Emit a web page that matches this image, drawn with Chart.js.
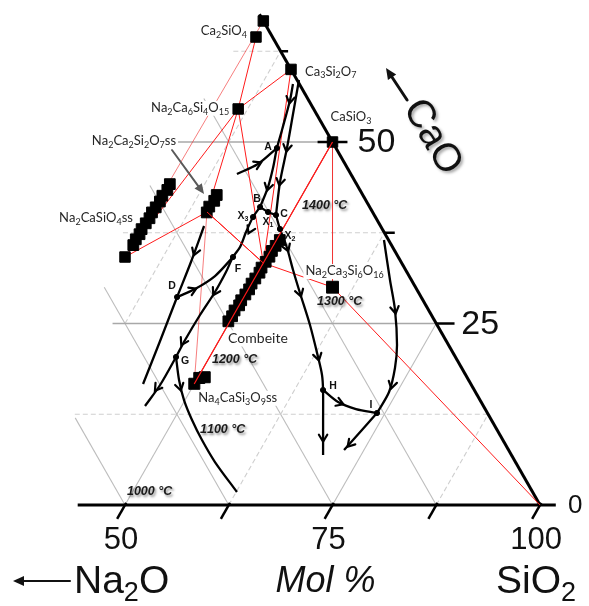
<!DOCTYPE html>
<html><head><meta charset="utf-8">
<script src="https://cdn.jsdelivr.net/npm/chart.js@4"></script>
<style>html,body{margin:0;padding:0;background:#fff}canvas{display:block}</style>
</head><body>
<canvas id="c" width="589" height="606"></canvas>
<script>
// All compositions are [SiO2 mol%, CaO mol%]  (Na2O = 100 - SiO2 - CaO)
const siO2TickLabels = [50, 75, 100];
const caOTickLabels = [50, 25, 0];
const bottomTickSiO2 = [50, 62.5, 75, 87.5, 100];
const edgeTickCaO = [62.5, 50, 37.5, 25];
const edgeTickOuterSiO2 = [38.4, 51.8, 63.75, 77.2];
const hGridCaO = [12.5, 25, 37.5, 50, 62.5];
const hGridStartSiO2 = [37.7, 36.0, 31.0, 31.3, 31.8];
const sGridSiO2 = [37.5, 50, 62.5, 75, 87.5];
const sGridStartCaO = [25, 0, 0, 0, 0];
const nGridNa2O = [12.5, 25, 37.5, 50];
const nGridTopCaO = [56, 44, 30, 12];

const compoundNames = ['Ca2SiO4','Ca2SiO4ss','Ca3Si2O7','CaSiO3','Na2Ca6Si4O15','Na2Ca3Si6O16','Combeite','Na2Ca2Si2O7','Na2CaSiO4','Na2CaSiO4ss','Na4CaSi3O9','SiO2'];
const compoundSiO2 = [33.33, 33.55, 40, 50, 36.36, 60, 50, 39.7, 32.92, 33.0, 50, 100];
const compoundCaO  = [66.67, 64.46, 60, 50, 54.55, 30, 33.33, 40.36, 34.16, 36.91, 16.67, 0];
const squareCompounds = ['Ca2SiO4','Ca2SiO4ss','Ca3Si2O7','CaSiO3','Na2Ca6Si4O15','Na2CaSiO4'];

const combeiteSS = [[49.8,25.3],[49.9,26.0],[49.8,26.8],[50.0,27.5],[49.9,28.2],[50.0,29.0],[50.1,29.7],[50.0,30.5],[50.1,31.2],[50.2,32.0],[50.1,32.7],[50.2,33.5],[50.3,34.2],[50.2,35.0],[50.3,35.7],[50.4,36.5]];
const na2CaSiO4SS = [[33.1,35.8],[33.0,36.6],[33.1,37.3],[33.0,38.0],[33.1,38.8],[33.2,39.5],[33.1,40.3],[33.2,41.0],[33.3,41.8],[33.2,42.6],[33.4,43.4],[33.3,44.2]];
const na2Ca2Si2O7SS = [[39.7,40.3],[39.6,41.1],[39.8,41.9],[39.7,42.7]];
const na4CaSi3O9SS = [[50.0,16.7],[50.2,17.5],[50.8,17.6]];

const tieLines = [
 ['Ca2SiO4ss','Na2Ca6Si4O15'], ['Ca2SiO4','Na2CaSiO4ss'], ['Na2Ca6Si4O15','Na2CaSiO4'],
 ['Na2Ca6Si4O15','Na2Ca2Si2O7'], ['Na2Ca6Si4O15','Ca3Si2O7'], ['Na2Ca6Si4O15','Combeite'],
 ['Ca3Si2O7','Combeite'], ['CaSiO3','Combeite'], ['CaSiO3','Na2Ca3Si6O16'],
 ['Combeite','Na2Ca3Si6O16'], ['Na2Ca3Si6O16','SiO2'], ['Na2CaSiO4','Na2Ca2Si2O7'],
 ['Na2Ca2Si2O7','Combeite'], ['Na2Ca2Si2O7','Na4CaSi3O9'], ['Combeite','Na4CaSi3O9']
];

// boundary curves (in the direction of falling temperature)
const curveA_B = [[41.24,57.99],[41.99,55.79],[43.09,51.65],[43.72,49.17],[44.62,46.42],[45.33,43.80],[45.75,41.05]];
const curveToC = [[41.69,58.54],[43.60,53.03],[44.93,49.17],[46.43,44.49],[48.22,39.94]];
const curveC_H = [[48.22,39.94],[49.66,38.02],[51.82,35.40],[54.06,32.37],[56.48,29.20],[59.89,24.79],[63.06,20.39],[64.78,17.91],[65.94,15.84],[68.01,11.71],[70.42,6.89]];
const curveToI = [[62.95,36.50],[66.43,30.99],[69.10,26.86],[71.75,22.04],[73.09,18.87],[74.03,15.56],[74.02,12.67]];
const curveI_out = [[74.02,12.67],[73.38,10.33],[72.60,7.58]];
const curveH_I = [[65.94,15.84],[68.57,14.19],[71.22,13.22],[74.02,12.67]];
const curveToA = [[40.69,45.59],[42.53,46.97],[43.72,49.17]];
const curveB_C = [[45.75,41.05],[47.05,40.36],[48.22,39.94]];
const curveB_G = [[45.75,41.05],[45.59,39.67],[45.78,37.60],[46.09,35.54],[45.93,34.16],[46.12,32.09],[46.17,29.34],[45.95,26.17],[45.87,22.73],[45.95,20.39],[45.96,16.53],[45.59,13.64]];
const curveD = [[40.31,38.43],[41.21,33.47],[41.95,28.65],[42.93,22.59],[43.84,16.67]];
const curveD_F = [[41.95,28.65],[43.55,29.75],[45.07,31.54],[45.93,34.16]];
const curveG_1100 = [[45.95,20.39],[47.90,17.22],[49.88,14.46],[52.22,11.71],[54.80,8.95],[57.88,5.92],[62.59,1.79]];
const curveList = [curveA_B, curveToC, curveC_H, curveToI, curveI_out, curveH_I, curveToA, curveB_C, curveB_G, curveD, curveD_F, curveG_1100];

// arrow marks: [curve index in curveList, SiO2, CaO]
const arrowMarks = [
 [0,41.99,55.79],[0,45.33,43.80],[1,44.93,49.17],[1,46.43,44.49],
 [2,51.82,35.40],[2,56.48,29.20],[2,63.06,20.39],[2,69.25,9.23],
 [3,69.10,26.86],[3,73.91,16.53],[4,72.91,8.40],[5,68.88,14.05],[6,42.53,46.97],
 [8,46.12,37.88],[8,46.17,29.34],[8,45.76,22.45],[8,45.80,16.12],
 [9,41.01,34.85],[10,43.38,29.61],[11,48.50,16.25]
];

const invariantNames = ['A','B','C','X_1','X_2','X_3','D','F','G','H','I'];
const invariantSiO2 = [43.72,45.75,48.22,47.05,49.66,45.59,41.95,45.93,45.95,65.94,74.02];
const invariantCaO  = [49.17,41.05,39.94,40.36,38.02,39.67,28.65,34.16,20.39,15.84,12.67];

const isothermText = ['1400 °C','1300 °C','1200 °C','1100 °C','1000 °C'];
const isothermSiO2 = [50.74, 59.15, 50.49, 53.87, 49.34];
const isothermCaO  = [41.18, 27.96, 19.97, 10.33, 1.79];

// ---------- build datasets ----------
const T = (s, c) => ({x: s + c / 2, y: c});
const comp = n => { const i = compoundNames.indexOf(n); return [compoundSiO2[i], compoundCaO[i]]; };
const datasets = [];
function line(points, color, width, dash, order, tension) {
  datasets.push({data: points.map(p => T(p[0], p[1])), borderColor: color, borderWidth: width,
    borderDash: dash || [], pointRadius: 0, tension: tension || 0, fill: false, order: order, clip: false});
}
function marks(points, style, radius, order) {
  datasets.push({data: points.map(p => T(p[0], p[1])), showLine: false, pointStyle: style,
    pointRadius: radius, pointBackgroundColor: '#000', pointBorderColor: '#000', pointBorderWidth: 1, order: order, clip: false});
}
// grid
hGridCaO.forEach((c, i) => {
  const major = c % 25 === 0;
  line([[hGridStartSiO2[i], c], [100 - c, c]], major ? '#a8a8a8' : '#cfcfcf', major ? 1.6 : 1.2, major ? [] : [5, 3], 60);
});
sGridSiO2.forEach((s, i) => {
  const major = s % 25 === 0;
  line([[s, sGridStartCaO[i]], [s, 100 - s]], major ? '#bdbdbd' : '#cfcfcf', 1.1, major ? [] : [5, 3], 60);
});
nGridNa2O.forEach((n, i) => {
  line([[100 - n, 0], [100 - n - nGridTopCaO[i], nGridTopCaO[i]]], '#bdbdbd', 1.1, [], 60);
});
// axes
line([[44.3, 0], [101.9, 0]], '#000', 3, [], 50);
line([[100, 0], [32.4, 67.6]], '#000', 3, [], 50);
edgeTickCaO.forEach((c, i) => line([[c === 50 ? 48.2 : 100 - c, c], [edgeTickOuterSiO2[i], c]], '#000', 2.5, [], 50));
bottomTickSiO2.forEach(s => line([[s, 0.3], [s, -1.9]], '#000', 2.5, [], 50));
// tie lines
const faint = [1, 8, 13];
tieLines.forEach((t, i) => line([comp(t[0]), comp(t[1])], faint.includes(i) ? 'rgba(240,40,40,0.6)' : '#ff1a1a', 1, [], 40));
// boundary curves
curveList.forEach(cv => line(cv, '#000', 2.3, [], 30, 0.3));
// phases
marks(combeiteSS, 'rect', 7.6, 20);
marks(na2CaSiO4SS, 'rect', 7.6, 20);
marks(na2Ca2Si2O7SS, 'rect', 7.6, 20);
marks(na4CaSi3O9SS, 'rect', 7.8, 20);
marks(squareCompounds.map(comp), 'rect', 7.4, 20);
marks([comp('Na2Ca3Si6O16')], 'rect', 8.4, 20);
// combeite tie-lines drawn over the band (as in the figure)
line([comp('Combeite'), comp('Na4CaSi3O9')], '#ff1a1a', 1.2, [], 15);
line([comp('Combeite'), comp('CaSiO3')], '#ff1a1a', 1.2, [], 15);
line([comp('Na2Ca2Si2O7'), comp('Combeite')], '#ff1a1a', 1.0, [], 15);
// invariant points
marks(invariantSiO2.map((s, i) => [s, invariantCaO[i]]), 'circle', 2.6, 10);

// ---------- overlay: arrows & text ----------
function chem(ctx, str, x, y, size, o) {
  o = o || {};
  const segs = [];
  for (let i = 0; i < str.length; i++) {
    if (str[i] === '_') { segs.push([str[i + 1], true]); i++; } else segs.push([str[i], false]);
  }
  const fam = o.family || 'Lato', w = o.weight || 'normal', st = o.style || 'normal';
  const main = `${st} ${w} ${size}px ${fam}`, sub = `${st} ${w} ${Math.round(size * 0.68)}px ${fam}`;
  let total = 0;
  segs.forEach(s => { ctx.font = s[1] ? sub : main; s.push(ctx.measureText(s[0]).width); total += s[2]; });
  let cx = o.align === 'right' ? x - total : o.align === 'center' ? x - total / 2 : x;
  if (o.bg) { ctx.save(); ctx.shadowColor = 'transparent'; ctx.fillStyle = o.bg; ctx.fillRect(cx - 2, y - size * 0.55, total + 4, size * 1.15); ctx.restore(); }
  ctx.fillStyle = o.color || '#222';
  ctx.textBaseline = 'middle';
  segs.forEach(s => { ctx.font = s[1] ? sub : main; ctx.fillText(s[0], cx, s[1] ? y + size * 0.3 : y); cx += s[2]; });
}
function chevron(ctx, x, y, dx, dy, len) {
  const L = Math.hypot(dx, dy), ux = dx / L, uy = dy / L, a = 0.55, ca = Math.cos(a), sa = Math.sin(a);
  const tx = x + ux * len * 0.45, ty = y + uy * len * 0.45;
  ctx.beginPath();
  ctx.moveTo(tx - len * (ux * ca - uy * sa), ty - len * (ux * sa + uy * ca));
  ctx.lineTo(tx, ty);
  ctx.lineTo(tx - len * (ux * ca + uy * sa), ty - len * (-ux * sa + uy * ca));
  ctx.stroke();
}
function arrowLine(ctx, x1, y1, x2, y2, head, width, color) {
  ctx.strokeStyle = color; ctx.fillStyle = color; ctx.lineWidth = width;
  const L = Math.hypot(x2 - x1, y2 - y1), ux = (x2 - x1) / L, uy = (y2 - y1) / L;
  ctx.beginPath(); ctx.moveTo(x1, y1); ctx.lineTo(x2 - ux * head * 0.7, y2 - uy * head * 0.7); ctx.stroke();
  ctx.beginPath(); ctx.moveTo(x2, y2);
  ctx.lineTo(x2 - ux * head - uy * head * 0.45, y2 - uy * head + ux * head * 0.45);
  ctx.lineTo(x2 - ux * head + uy * head * 0.45, y2 - uy * head - ux * head * 0.45);
  ctx.closePath(); ctx.fill();
}
const overlay = {
  id: 'overlay',
  afterDatasetsDraw(chart) {
    const ctx = chart.ctx, xs = chart.scales.x, ys = chart.scales.y;
    const P = (s, c) => [xs.getPixelForValue(s + c / 2), ys.getPixelForValue(c)];
    ctx.save();
    // flow arrows
    ctx.strokeStyle = '#000'; ctx.lineWidth = 2.2; ctx.lineCap = 'round'; ctx.lineJoin = 'miter';
    arrowMarks.forEach(m => {
      const cv = curveList[m[0]].map(p => P(p[0], p[1]));
      const [ax, ay] = P(m[1], m[2]);
      let best = 0, bd = 1e9;
      for (let i = 0; i < cv.length - 1; i++) {
        const [x1, y1] = cv[i], [x2, y2] = cv[i + 1];
        const vx = x2 - x1, vy = y2 - y1, t = Math.max(0, Math.min(1, ((ax - x1) * vx + (ay - y1) * vy) / (vx * vx + vy * vy)));
        const d = Math.hypot(x1 + t * vx - ax, y1 + t * vy - ay);
        if (d < bd) { bd = d; best = i; }
      }
      chevron(ctx, ax, ay, cv[best + 1][0] - cv[best][0], cv[best + 1][1] - cv[best][1], 8);
    });
    // pointer arrow to Na2Ca2Si2O7ss
    { const a = P(31.21, 48.90), b = P(38.10, 42.84); arrowLine(ctx, a[0], a[1], b[0], b[1], 10, 2, '#5a5a5a'); }
    // phase labels
    const lab = (txt, pt, dx, dy, align, size) => { const p = P(pt[0], pt[1]); chem(ctx, txt, p[0] + dx, p[1] + dy, size || 13, {align, bg: '#fff', color: '#262626'}); };
    lab('Ca_2SiO_4', comp('Ca2SiO4ss'), -9, -6, 'right');
    lab('Ca_3Si_2O_7', comp('Ca3Si2O7'), 14, 2, 'left');
    lab('CaSiO_3', comp('CaSiO3'), -2, -25, 'left');
    lab('Na_2Ca_6Si_4O_1_5', comp('Na2Ca6Si4O15'), -9, -1, 'right');
    lab('Na_2Ca_2Si_2O_7ss', [31.1, 50.1], 0, 0, 'right');
    lab('Na_2CaSiO_4ss', [31.2, 39.5], 0, 0, 'right');
    lab('Na_2Ca_3Si_6O_1_6', comp('Na2Ca3Si6O16'), 12, -16, 'center');
    lab('Combeite', [50.91, 23.0], 0, 0, 'left', 14);
    lab('Na_4CaSi_3O_9ss', comp('Na4CaSi3O9'), 4, 14, 'left');
    // invariant point letters
    const off = {'A':[-9,-1],'B':[-3,-8],'C':[8,-1],'X_1':[0,10],'X_2':[10,7],'X_3':[-10,-1],'D':[-5,-11],'F':[5,12],'G':[9,4],'H':[10,-4],'I':[-6,-8]};
    invariantNames.forEach((n, i) => {
      const p = P(invariantSiO2[i], invariantCaO[i]);
      chem(ctx, n, p[0] + off[n][0], p[1] + off[n][1], 10.5, {align: 'center', weight: 'bold', family: 'Liberation Sans', color: '#111'});
    });
    // isotherm labels
    ctx.shadowColor = 'rgba(0,0,0,0.45)'; ctx.shadowBlur = 2.5; ctx.shadowOffsetX = 1.5; ctx.shadowOffsetY = 1.5;
    isothermText.forEach((t, i) => {
      const p = P(isothermSiO2[i], isothermCaO[i]);
      chem(ctx, t, p[0], p[1], 12.5, {align: 'left', weight: 'bold', style: 'italic', family: 'Liberation Sans', color: '#1a1a1a'});
    });
    ctx.shadowColor = 'transparent';
    // axis tick labels
    siO2TickLabels.forEach(s => { const p = P(s, 0); chem(ctx, String(s), p[0] - 4, 540, 31, {align: 'center', family: 'Liberation Sans', color: '#111'}); });
    caOTickLabels.forEach(c => { const p = P(100 - c, c); chem(ctx, String(c), p[0] + (c === 0 ? 28 : 25), p[1] + 1, c === 0 ? 26 : 34, {align: 'left', family: 'Liberation Sans', color: '#111'}); });
    // axis titles
    { const p = P(50, 0); chem(ctx, 'Na_2O', p[0] - 51, 582, 39, {align: 'left', family: 'Liberation Sans', color: '#111'});
      arrowLine(ctx, p[0] - 55, 581, p[0] - 112, 581, 11, 2, '#111'); }
    { const p = P(75, 0); chem(ctx, 'Mol %', p[0] - 7, 582, 36, {align: 'center', style: 'italic', family: 'Liberation Sans', color: '#111'}); }
    { const p = P(100, 0); chem(ctx, 'SiO_2', p[0] - 44, 582, 39, {align: 'left', family: 'Liberation Sans', color: '#111'}); }
    { const p = P(61.65, 50.69);
      ctx.save(); ctx.translate(p[0], p[1]); ctx.rotate(Math.PI / 3);
      ctx.shadowColor = 'rgba(0,0,0,0.35)'; ctx.shadowBlur = 3; ctx.shadowOffsetX = 2; ctx.shadowOffsetY = 2;
      chem(ctx, 'CaO', 0, 0, 39, {align: 'center', family: 'Liberation Sans', color: '#111'});
      ctx.restore();
      const a = P(56.09, 55.79), b = P(51.35, 60.19); arrowLine(ctx, a[0], a[1], b[0], b[1], 11, 3, '#111'); }
    ctx.restore();
  }
};

new Chart(document.getElementById('c'), {
  type: 'line',
  data: {datasets},
  options: {
    responsive: false, animation: false, devicePixelRatio: 1, events: [],
    layout: {padding: 0, autoPadding: false},
    scales: {
      x: {type: 'linear', min: 34.94, max: 105.90, display: false},
      y: {type: 'linear', min: -13.91, max: 69.56, display: false}
    },
    plugins: {legend: {display: false}, tooltip: {enabled: false}}
  },
  plugins: [overlay]
});
</script>
</body></html>
